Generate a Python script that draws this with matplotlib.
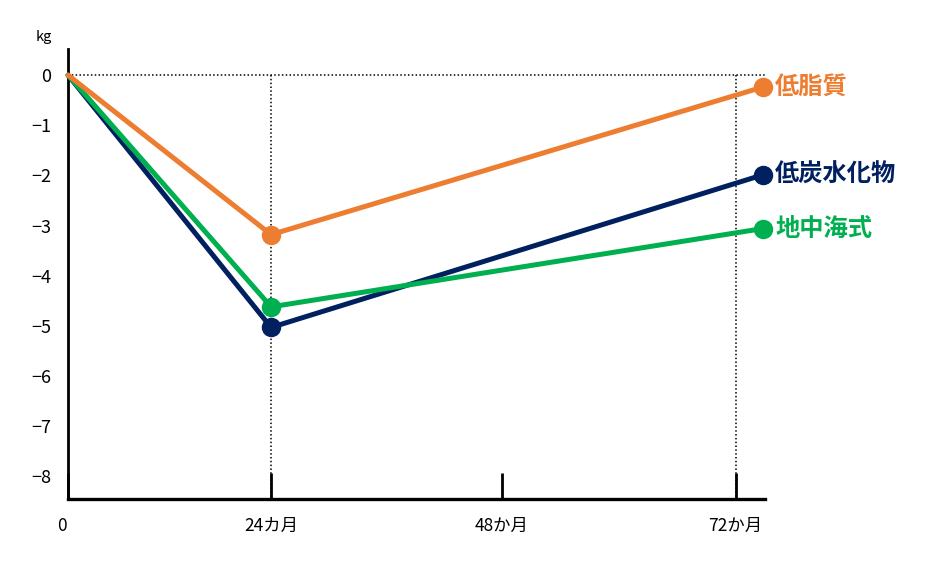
import numpy as np
import matplotlib
matplotlib.use("Agg")
import matplotlib.pyplot as plt
import matplotlib.transforms as mtrans

plt.rcParams['font.family'] = ['Noto Sans CJK JP', 'DejaVu Sans']

# horizontal position of the three measurements (drawn schematically)
x_pts = [0, 24, 82.1]
low_fat = [0, -3.18, -0.24]
low_carb = [0, -5.03, -1.99]
mediterranean = [0, -4.62, -3.06]

names = ["低脂質", "低炭水化物", "地中海式"]
colors = ["#ED7D31", "#002060", "#00B050"]

xtick_pos = [0, 24, 51.3, 78.9]
xtick_labels = ["0", "24カ月", "48か月", "72か月"]
yticks = np.arange(0, -9, -1)


def main():
    fig = plt.figure(figsize=(9.27, 5.66), dpi=100)
    ax = fig.add_axes([0.0734, 0.1184, 0.752, 0.795])

    ax.set_xlim(0, 82.4)
    ax.set_ylim(-8.45, 0.52)

    # dotted guides
    ax.axhline(0, color="black", ls=(0, (1, 1.5)), lw=1.1, zorder=1)
    for xv in (xtick_pos[1], xtick_pos[3]):
        ax.plot([xv, xv], [0, -8.45], color="black", ls=(0, (1, 1.5)), lw=1.1, zorder=1)

    series = [low_fat, low_carb, mediterranean]
    order = [1, 2, 0]
    for i in order:
        ys = series[i]
        ax.plot(x_pts, ys, color=colors[i], lw=3.6, zorder=3, clip_on=False,
                solid_capstyle="round")
        ax.plot(x_pts[1:], ys[1:], "o", color=colors[i], ms=13, zorder=4,
                clip_on=False)
        ax.annotate(names[i], (x_pts[-1], ys[-1]), xytext=(9, 0),
                    textcoords="offset points", va="center", ha="left",
                    color=colors[i], fontsize=17.5, fontweight="bold",
                    annotation_clip=False)

    ax.spines["top"].set_visible(False)
    ax.spines["right"].set_visible(False)
    ax.spines["left"].set_linewidth(2)
    ax.spines["bottom"].set_linewidth(2.4)

    ax.set_yticks(yticks)
    ax.set_yticklabels([str(v).replace("-", "−") for v in yticks])
    ax.tick_params(axis="y", length=0, pad=12, labelsize=13)

    ax.set_xticks(xtick_pos)
    ax.set_xticklabels(xtick_labels)
    ax.tick_params(axis="x", direction="in", length=19, width=2, pad=13,
                   labelsize=12.5)
    lbl0 = ax.get_xticklabels()[0]
    lbl0.set_transform(lbl0.get_transform() +
                       mtrans.ScaledTranslation(-6 / 100, 0, fig.dpi_scale_trans))

    fig.text(0.047, 0.935, "kg", fontsize=10.5, ha="center", va="center")

    fig.savefig("out.png", dpi=100)


if __name__ == "__main__":
    main()
